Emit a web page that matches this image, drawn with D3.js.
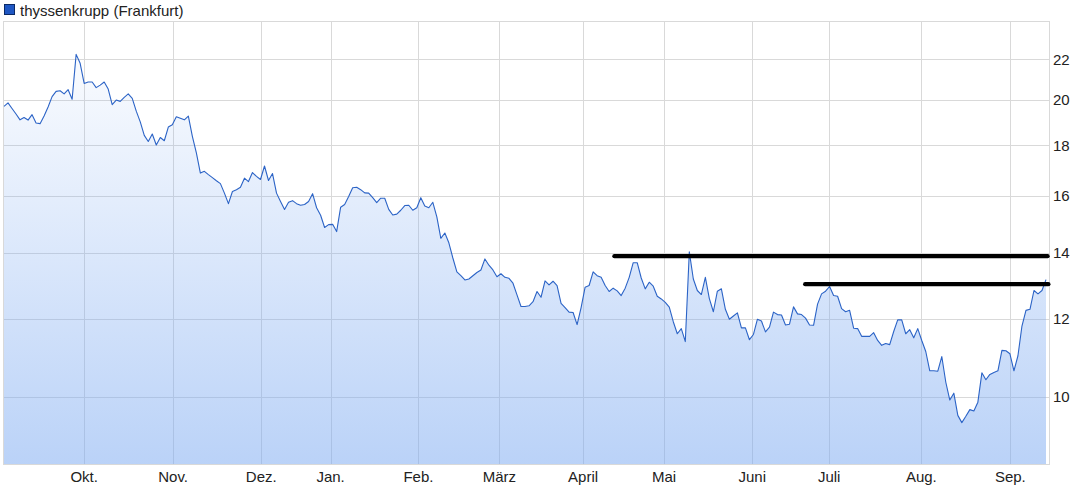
<!DOCTYPE html>
<html>
<head>
<meta charset="utf-8">
<script src="https://cdn.jsdelivr.net/npm/d3@7"></script>
<style>
  html, body { margin: 0; padding: 0; background: #fff; }
  svg { display: block; font-family: "Liberation Sans", Arial, sans-serif; }
</style>
</head>
<body>
<svg id="chart" width="1082" height="491"></svg>
<script>
const seriesName = "thyssenkrupp (Frankfurt)";
const prices = [
  19.70, 19.86, 19.60, 19.35, 19.09, 19.19, 19.08, 19.32, 18.95, 18.92,
  19.26, 19.67, 20.15, 20.40, 20.43, 20.28, 20.48, 20.03, 22.24, 21.78,
  20.78, 20.85, 20.85, 20.58, 20.70, 20.85, 20.51, 19.78, 19.99, 19.93,
  20.12, 20.28, 20.07, 19.48, 19.00, 18.41, 18.15, 18.47, 18.00, 18.32,
  18.18, 18.77, 18.87, 19.23, 19.16, 19.09, 19.26, 18.37, 17.67, 16.86,
  16.93, 16.80, 16.68, 16.56, 16.45, 16.09, 15.70, 16.15, 16.22, 16.31,
  16.66, 16.53, 16.88, 16.73, 16.61, 17.14, 16.57, 16.84, 16.09, 15.78,
  15.49, 15.75, 15.81, 15.70, 15.64, 15.67, 15.78, 16.07, 15.55, 15.28,
  14.85, 14.95, 14.96, 14.71, 15.57, 15.67, 15.96, 16.29, 16.31, 16.22,
  16.10, 16.09, 15.92, 15.74, 15.90, 15.90, 15.49, 15.29, 15.32, 15.46,
  15.63, 15.64, 15.46, 15.55, 15.92, 15.61, 15.55, 15.75, 15.22, 14.48,
  14.66, 14.33, 13.83, 13.39, 13.27, 13.14, 13.17, 13.27, 13.37, 13.45,
  13.80, 13.60, 13.45, 13.24, 13.33, 13.22, 13.19, 13.04, 12.69, 12.35,
  12.35, 12.37, 12.49, 12.79, 12.62, 13.11, 12.99, 13.10, 12.97, 12.44,
  12.32, 12.19, 12.18, 11.84, 12.32, 12.92, 12.97, 13.39, 13.27, 13.22,
  12.97, 12.79, 12.89, 12.81, 12.67, 12.89, 13.22, 13.68, 13.68, 13.20,
  12.87, 13.07, 12.95, 12.65, 12.57, 12.47, 12.33, 11.92, 11.59, 11.73,
  11.38, 14.03, 13.17, 12.82, 12.70, 13.22, 12.58, 12.20, 12.80, 12.87,
  12.27, 11.99, 12.08, 12.17, 11.75, 11.75, 11.43, 11.57, 11.99, 11.94,
  11.64, 11.77, 12.19, 12.12, 12.11, 11.83, 11.85, 12.34, 12.14, 12.12,
  12.02, 11.83, 11.82, 12.42, 12.72, 12.80, 12.94, 12.67, 12.65, 12.29,
  12.20, 12.24, 11.74, 11.73, 11.52, 11.52, 11.52, 11.62, 11.41, 11.28,
  11.33, 11.30, 11.65, 11.97, 11.97, 11.59, 11.70, 11.48, 11.73, 11.41,
  11.12, 10.63, 10.63, 10.62, 10.99, 10.35, 9.93, 10.09, 9.58, 9.42,
  9.56, 9.71, 9.68, 9.88, 10.58, 10.41, 10.54, 10.59, 10.63, 11.15,
  11.14, 11.06, 10.63, 11.01, 11.80, 12.24, 12.27, 12.82, 12.72, 12.82,
  13.15
];
const monthLabels = ["Okt.", "Nov.", "Dez.", "Jan.", "Feb.", "März", "April", "Mai", "Juni", "Juli", "Aug.", "Sep."];
// index (trading day position) at which each month starts
const monthStarts = [20, 42.2, 64.2, 81.5, 103.4, 123.6, 144.5, 164.7, 186.7, 205.9, 228.9, 251.1];
const yTickValues = [10, 12, 14, 16, 18, 20, 22];
// user-drawn horizontal lines: start index, end index, price level
const hLineStart = [152.3, 199.9];
const hLineEnd = [260.4, 260.6];
const hLineLevel = [13.89, 13.01];

const svg = d3.select("#chart");
const W = 1082, H = 491;
const frame = { left: 3, right: 1049, top: 21, bottom: 464 };

const x = d3.scaleLinear().domain([0, prices.length - 1]).range([4, 1046]);
const y = d3.scaleLog().domain([8.553, 24.04]).range([frame.bottom, frame.top]);

// gradient
const defs = svg.append("defs");
const grad = defs.append("linearGradient")
  .attr("id", "areaGrad").attr("gradientUnits", "userSpaceOnUse")
  .attr("x1", 0).attr("x2", 0).attr("y1", frame.top).attr("y2", frame.bottom);
grad.append("stop").attr("offset", "0%").attr("stop-color", "rgb(123,169,241)").attr("stop-opacity", 0.0);
grad.append("stop").attr("offset", "100%").attr("stop-color", "rgb(123,169,241)").attr("stop-opacity", 0.52);

// grid
const grid = svg.append("g");
grid.selectAll("line.h").data(yTickValues).join("line")
  .attr("x1", frame.left).attr("x2", frame.right)
  .attr("y1", d => Math.round(y(d)) + 0.5).attr("y2", d => Math.round(y(d)) + 0.5)
  .attr("stroke", "#d9d9d9").attr("stroke-width", 1);
grid.selectAll("line.v").data(monthStarts).join("line")
  .attr("x1", d => Math.round(x(d)) + 0.5).attr("x2", d => Math.round(x(d)) + 0.5)
  .attr("y1", frame.top).attr("y2", frame.bottom)
  .attr("stroke", "#d9d9d9").attr("stroke-width", 1);
// frame
svg.append("rect")
  .attr("x", frame.left + 0.5).attr("y", frame.top + 0.5)
  .attr("width", frame.right - frame.left).attr("height", frame.bottom - frame.top)
  .attr("fill", "none").attr("stroke", "#d9d9d9");

// area + line
const area = d3.area().x((d, i) => x(i)).y0(frame.bottom).y1(d => y(d));
const line = d3.line().x((d, i) => x(i)).y(d => y(d));
svg.append("path").datum(prices).attr("d", area).attr("fill", "url(#areaGrad)");
svg.append("path").datum(prices).attr("d", line)
  .attr("fill", "none").attr("stroke", "#2b63c6").attr("stroke-width", 1.1)
  .attr("stroke-linejoin", "round");

// horizontal user lines
svg.append("g").selectAll("line").data(hLineLevel).join("line")
  .attr("x1", (d, i) => x(hLineStart[i])).attr("x2", (d, i) => x(hLineEnd[i]))
  .attr("y1", d => y(d)).attr("y2", d => y(d))
  .attr("stroke", "#000").attr("stroke-width", 4.2).attr("stroke-linecap", "round");

// y axis labels
svg.append("g").selectAll("text").data(yTickValues).join("text")
  .attr("x", 1053).attr("y", d => y(d) + 5.5)
  .attr("font-size", 15).attr("fill", "#222")
  .text(d => d);

// x axis labels
svg.append("g").selectAll("text").data(monthStarts).join("text")
  .attr("x", d => x(d)).attr("y", 482)
  .attr("text-anchor", "middle").attr("font-size", 15).attr("fill", "#222")
  .text((d, i) => monthLabels[i]);

// legend
svg.append("rect").attr("x", 4.5).attr("y", 4.5).attr("width", 10).attr("height", 10)
  .attr("fill", "#1f57c3").attr("stroke", "#0b2a66").attr("stroke-width", 1);
svg.append("text").attr("x", 20).attr("y", 16).attr("font-size", 15).attr("fill", "#222")
  .text(seriesName);
</script>
</body>
</html>
